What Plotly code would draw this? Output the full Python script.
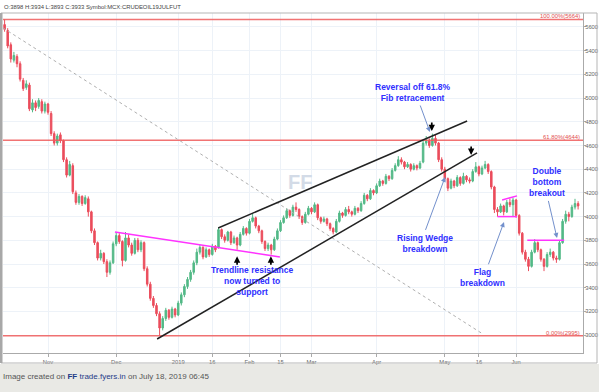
import plotly.graph_objects as go
import pandas as pd

# ---------------- data ----------------
dates = [d.strftime('%Y-%m-%d') for d in pd.bdate_range('2018-10-12', '2019-07-01')
         if d.strftime('%Y-%m-%d') != '2018-12-25']

open_ = [5620,5570,5450,5320,5350,5290,5150,5090,5110,4900,4960,4930,4970,4890,4950,4870,4700,4620,4690,4640,
         4480,4350,4430,4200,4120,4170,4110,4150,4040,3880,3780,3650,3690,3620,3530,3610,3770,3840,3790,3630,
         3820,3760,3690,3800,3720,3780,3560,3430,3310,3250,3180,3060,3140,3210,3150,3220,3170,3270,3340,3410,
         3470,3530,3610,3700,3740,3660,3720,3680,3750,3740,3890,3830,3800,3870,3780,3820,3760,3850,3900,3860,
         3960,3990,3920,3880,3790,3730,3760,3720,3810,3880,3950,3990,4050,4010,4080,4060,4000,3950,4020,4070,
         4040,4100,3990,3960,3980,3940,3900,3870,3960,4030,4010,4060,4040,4020,4070,4050,4110,4180,4150,4220,
         4200,4260,4300,4280,4340,4320,4390,4430,4480,4460,4420,4440,4400,4430,4410,4460,4620,4640,4600,4660,
         4620,4480,4400,4320,4240,4300,4260,4330,4280,4340,4310,4300,4380,4420,4360,4410,4440,4380,4250,4060,
         4040,4090,4040,4120,4100,4140,4010,3860,3700,3640,3580,3700,3780,3720,3640,3580,3680,3700,3650,3640,
         3780,3960,4020,4000,4080,4110]
high = [5664,5590,5470,5390,5370,5310,5170,5150,5130,4990,4980,5000,4990,4970,4960,4890,4720,4700,4710,4650,
        4500,4470,4450,4220,4190,4180,4180,4170,4050,3900,3790,3720,3700,3640,3630,3790,3870,3860,3800,3870,
        3850,3780,3820,3820,3800,3790,3580,3450,3330,3270,3200,3160,3230,3220,3240,3230,3290,3360,3430,3490,
        3550,3630,3730,3760,3750,3740,3730,3770,3760,3910,3900,3850,3880,3880,3840,3830,3870,3920,3910,3980,
        4025,4000,3930,3890,3800,3780,3770,3830,3900,3970,4010,4070,4060,4100,4120,4070,4010,4040,4090,4080,
        4120,4110,4000,4000,3990,3950,3910,3980,4050,4040,4080,4090,4050,4090,4080,4130,4200,4190,4240,4230,
        4280,4320,4310,4360,4350,4410,4450,4510,4500,4470,4460,4450,4450,4440,4470,4640,4680,4660,4700,4690,
        4630,4500,4420,4330,4320,4310,4350,4340,4370,4350,4330,4400,4460,4430,4430,4470,4450,4390,4260,4080,
        4110,4100,4140,4150,4160,4150,4020,3870,3720,3660,3720,3810,3790,3730,3650,3700,3730,3710,3670,3800,
        3980,4050,4040,4100,4150,4130]
low = [5560,5420,5300,5300,5260,5140,5060,5070,4890,4880,4890,4910,4870,4870,4860,4680,4600,4600,4620,4460,
       4330,4340,4190,4100,4100,4090,4100,4000,3860,3760,3630,3630,3600,3490,3510,3600,3750,3770,3580,3620,
       3740,3670,3680,3700,3700,3540,3410,3290,3230,3160,2995,3040,3120,3130,3140,3150,3160,3250,3320,3390,
       3450,3510,3590,3680,3640,3650,3660,3670,3700,3730,3810,3780,3790,3760,3770,3720,3750,3840,3840,3850,
       3950,3900,3860,3770,3710,3710,3680,3710,3800,3870,3940,3980,3990,4000,4040,3980,3930,3940,4010,4020,
       4030,3970,3940,3950,3920,3880,3850,3860,3950,3990,4000,4020,4000,4010,4030,4040,4100,4130,4140,4180,
       4190,4250,4260,4270,4300,4310,4380,4420,4440,4400,4410,4380,4390,4390,4400,4450,4600,4580,4590,4600,
       4460,4380,4300,4215,4230,4240,4250,4260,4270,4290,4280,4290,4370,4340,4350,4400,4360,4230,4030,4000,
       4030,4010,4030,4080,4000,3990,3840,3680,3620,3540,3570,3690,3700,3620,3540,3570,3660,3630,3610,3630,
       3770,3940,3960,3990,4060,4060]
close = [5580,5440,5330,5360,5290,5160,5080,5120,4910,4960,4920,4980,4890,4950,4880,4700,4620,4680,4640,4480,
         4350,4440,4210,4120,4170,4110,4160,4040,3880,3780,3650,3690,3620,3530,3610,3770,3840,3790,3630,3820,
         3760,3690,3800,3720,3780,3560,3430,3310,3250,3180,3060,3140,3210,3150,3220,3170,3270,3340,3410,3470,
         3530,3610,3700,3740,3660,3720,3680,3750,3720,3890,3830,3800,3870,3780,3820,3760,3850,3900,3860,3960,
         3990,3920,3880,3790,3730,3760,3720,3810,3880,3950,3990,4050,4010,4080,4060,4000,3950,4020,4070,4040,
         4100,3990,3960,3980,3940,3900,3870,3960,4030,4010,4060,4040,4020,4070,4050,4110,4180,4150,4220,4200,
         4260,4300,4280,4340,4320,4390,4430,4480,4460,4420,4440,4400,4430,4410,4450,4620,4640,4600,4660,4620,
         4480,4400,4320,4240,4300,4260,4330,4280,4340,4310,4300,4380,4420,4360,4410,4440,4380,4250,4060,4040,
         4090,4040,4120,4100,4140,4010,3860,3700,3640,3580,3700,3780,3720,3640,3580,3680,3700,3650,3640,3780,
         3960,4020,4000,4080,4110,4090]

tick_dates = ['2018-11-01', '2018-12-03', '2019-01-01', '2019-01-16', '2019-02-01', '2019-02-15',
              '2019-03-01', '2019-04-01', '2019-05-01', '2019-05-16', '2019-06-03']
tick_labels = ['Nov', 'Dec', '2019', '16', 'Feb', '15', 'Mar', 'Apr', 'May', '16', 'Jun']

fib_levels = [5664, 4644, 2995]
fib_labels = ['100.00%(5664)', '61.80%(4644)', '0.00%(2995)']

header = 'O:3898 H:3934 L:3893 C:3933 Symbol:MCX:CRUDEOIL19JULFUT'

# ---------------- geometry helpers (pixel -> paper) ----------------
W, H = 599, 392
L, R, T, B = 3, 16, 13, 39
PW, PH = W - L - R, H - T - B


def px(x):
    return (x - L) / PW


def py(y):
    return (H - B - y) / PH


fig = go.Figure()
fig.add_trace(go.Candlestick(
    x=dates, open=open_, high=high, low=low, close=close,
    increasing=dict(line=dict(color='#53b987', width=1), fillcolor='#53b987'),
    decreasing=dict(line=dict(color='#eb4d5c', width=1), fillcolor='#eb4d5c'),
    whiskerwidth=0, hoverinfo='skip'))

shapes = []
# footer band and frame
shapes.append(dict(type='rect', xref='paper', yref='paper', x0=px(0), x1=px(W), y0=py(H), y1=py(364),
                   fillcolor='#e9e9e5', line=dict(width=0), layer='below'))
shapes.append(dict(type='rect', xref='paper', yref='paper', x0=px(1), x1=px(597), y0=py(363), y1=py(13),
                   line=dict(color='#b5b5b5', width=1)))
shapes.append(dict(type='rect', xref='paper', yref='paper', x0=px(0), x1=px(2.5), y0=py(363), y1=py(13),
                   fillcolor='#a8a8a8', line=dict(width=0)))

# Fibonacci levels
for lv in fib_levels:
    shapes.append(dict(type='line', xref='paper', yref='y', x0=0, x1=1, y0=lv, y1=lv,
                       line=dict(color='rgba(238,90,90,0.85)', width=1.5)))

# dashed long trend line
shapes.append(dict(type='line', xref='x', yref='y', x0=-0.5, y0=5592, x1=154.3, y1=3009,
                   line=dict(color='#b0b0b0', width=1, dash='dot')))
# pink trendline
shapes.append(dict(type='line', xref='x', yref='y', x0=35.6, y0=3870, x1=88.8, y1=3660,
                   line=dict(color='#ff33ff', width=1.5)))
# rising wedge
shapes.append(dict(type='line', xref='x', yref='y', x0=68.9, y0=3904, x1=149.2, y1=4807,
                   line=dict(color='#222222', width=1.5)))
shapes.append(dict(type='line', xref='x', yref='y', x0=49.2, y0=2967, x1=152.4, y1=4537,
                   line=dict(color='#222222', width=1.5)))
# flag
shapes.append(dict(type='line', xref='x', yref='y', x0=159.0, y0=4000, x1=165.3, y1=4000,
                   line=dict(color='#ff33ff', width=1.5)))
shapes.append(dict(type='line', xref='x', yref='y', x0=160.5, y0=4140, x1=165.3, y1=4175,
                   line=dict(color='#ff33ff', width=1.5)))
# double bottom
shapes.append(dict(type='line', xref='x', yref='y', x0=168.6, y0=3800, x1=180.5, y1=3800,
                   line=dict(color='#ff33ff', width=1.5)))

ann = []
BLUE = '#2f2fff'
ARROW = '#7390cc'
tf = dict(family='Liberation Sans', size=8.5, color=BLUE)


def txt(s, x, y):
    ann.append(dict(text='<b>%s</b>' % s, x=x, y=y, xref='x', yref='y', showarrow=False,
                    font=tf, xanchor='center', yanchor='middle', borderpad=0))


def arr(x, y, ax, ay, color=ARROW, width=1, head=2, size=1):
    ann.append(dict(text='', x=x, y=y, ax=ax, ay=ay, xref='x', yref='y', axref='x', ayref='y',
                    showarrow=True, arrowhead=head, arrowsize=size, arrowwidth=width, arrowcolor=color))


def bold_arrow(x, y, dy):
    ann.append(dict(text='', x=x, y=y, ax=0, ay=dy, xref='x', yref='y',
                    showarrow=True, arrowhead=2, arrowsize=0.75, arrowwidth=1.7, arrowcolor='#000000'))


txt('Reversal off 61.8%<br>Fib retracement', 131.7, 5043)
arr(137.2, 4714, 133.9, 4950)

txt('Rising Wedge<br>breakdown', 135.6, 3777)
arr(142.1, 4334, 135.6, 3875)

txt('Flag<br>breakdown', 154.3, 3486)
arr(161.1, 3954, 155.9, 3585)

txt('Double<br>bottom<br>breakout', 175.1, 4292)
arr(178.2, 3819, 175.3, 4145)

txt('Trendline resistance<br>now turned to<br>support', 79.8, 3455)

bold_arrow(137.8, 4722, -10)
bold_arrow(150.5, 4520, -10)
bold_arrow(75.0, 3665, 10)
bold_arrow(85.9, 3665, 10)

# fib labels
for lv, lab in zip(fib_levels, fib_labels):
    ann.append(dict(text=lab, x=px(581), y=lv, xref='paper', yref='y', showarrow=False,
                    xanchor='right', yanchor='bottom', yshift=-1, borderpad=0,
                    font=dict(family='Liberation Sans', size=5.9, color='#e25050')))

# header
ann.append(dict(text=header, x=px(3), y=py(7), xref='paper', yref='paper', showarrow=False,
                xanchor='left', yanchor='middle', borderpad=0,
                font=dict(family='Liberation Sans', size=5.9, color='#444')))
# watermark
ann.append(dict(text='<b>FF</b>', x=px(300), y=py(182), xref='paper', yref='paper', showarrow=False,
                xanchor='center', yanchor='middle',
                font=dict(family='Liberation Sans', size=20, color='#d3dbe7')))
# footer
ann.append(dict(text="Image created on <span style='color:#1f3c88'><b>FF</b> trade.fyers.in</span> on July 18, 2019 06:45",
                x=px(2), y=py(376), xref='paper', yref='paper', showarrow=False, borderpad=0,
                xanchor='left', yanchor='middle', font=dict(family='Liberation Sans', size=8, color='#555')))

fig.update_layout(
    width=W, height=H, margin=dict(l=L, r=R, t=T, b=B),
    paper_bgcolor='white', plot_bgcolor='white', showlegend=False,
    shapes=shapes, annotations=ann,
    xaxis=dict(type='category', range=[-0.516, 186.58], rangeslider=dict(visible=False),
               tickmode='array', tickvals=tick_dates, ticktext=tick_labels,
               tickfont=dict(family='Liberation Sans', size=5.8, color='#666'),
               showgrid=True, gridcolor='#edf2f8', gridwidth=1,
               ticks='outside', ticklen=3, tickcolor='#aaa',
               showline=True, linecolor='#aaa', linewidth=1, zeroline=False, automargin=False),
    yaxis=dict(side='right', range=[2849, 5718], tick0=3000, dtick=200,
               tickfont=dict(family='Liberation Sans', size=5.8, color='#666'),
               showgrid=True, gridcolor='#edf2f8', gridwidth=1,
               ticks='outside', ticklen=2, tickcolor='#aaa', ticklabelstandoff=-2,
               showline=True, linecolor='#aaa', linewidth=1, zeroline=False, automargin=False),
)

fig.write_html('out.html', config={'displayModeBar': False, 'staticPlot': True},
               post_script="document.body.style.margin='0px';document.body.style.overflow='hidden';")
